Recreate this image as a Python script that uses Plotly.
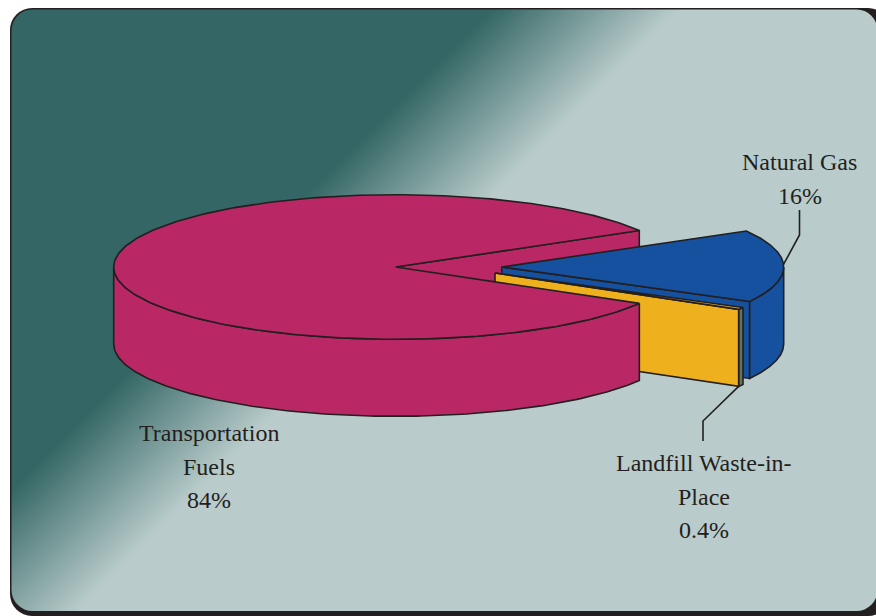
import base64
import numpy as np
import plotly.graph_objects as go

# ---- data ----
slice_names = ["Transportation Fuels", "Natural Gas", "Landfill Waste-in-Place"]
slice_shares = [83.2, 16.3, 0.5]
slice_colors = ["#b92865", "#15519f", "#efb01d"]
label_lines = [["Transportation", "Fuels", "84%"], ["Natural Gas", "16%"], ["Landfill Waste-in-", "Place", "0.4%"]]

# ---- layout constants (pixels; the axes below span the page) ----
W, H = 876, 616
RX, RY, DEPTH = 282, 72.3, 77
START = 30.25                       # degrees, where the big slice begins
CENTERS = [(395.7, 267), (501.7, 267), (495, 273)]
INK = "#231f20"
FONT = "Liberation Serif"
FONT_SIZE = 24
LINE_GAP = 33.5
LABEL_POS = [(209, 433), (799.5, 162), (703.5, 463)]
LEADER_ELBOWS = [None, [(799.5, 235), (799.5, 210)], [(703, 421), (703, 441)]]

sweep = [360 * s / sum(slice_shares) for s in slice_shares]
# red runs counter-clockwise from START; blue runs clockwise from START, yellow after it
blue_a0, blue_a1 = START, START - sweep[1]
yel_a0, yel_a1 = blue_a1, blue_a1 - sweep[2]
red_a0, red_a1 = START, START + sweep[0]


def ell(c, a0, a1, n=160, dy=0):
    t = np.radians(np.linspace(a0, a1, n))
    return c[0] + RX * np.cos(t), c[1] - RY * np.sin(t) + dy


def pt(c, a, dy=0):
    x, y = ell(c, a, a, 1, dy)
    return float(x[0]), float(y[0])


fig = go.Figure()


def poly(xs, ys, color, lw=1.6):
    fig.add_trace(go.Scatter(x=list(xs) + [xs[0]], y=list(ys) + [ys[0]], mode="lines", fill="toself",
                             fillcolor=color, line=dict(color=INK, width=lw), hoverinfo="skip", showlegend=False))


def cut_wall(c, a, color):
    px, py = pt(c, a)
    poly([c[0], px, px, c[0]], [c[1], py, py + DEPTH, c[1] + DEPTH], color)


def outer_wall(c, a0, a1, color):
    x, y = ell(c, a0, a1)
    poly(np.r_[x, x[::-1]], np.r_[y, (y + DEPTH)[::-1]], color)


def top_face(c, a0, a1, color):
    x, y = ell(c, a0, a1, 300)
    poly(np.r_[c[0], x], np.r_[c[1], y], color)


rc, bc, yc = CENTERS
# back cut wall of the large slice
cut_wall(rc, red_a0, slice_colors[0])
# natural gas slice
cut_wall(bc, blue_a1, slice_colors[1])
outer_wall(bc, blue_a1, 0, slice_colors[1])
top_face(bc, blue_a0, blue_a1, slice_colors[1])
# landfill slice
outer_wall(yc, yel_a0, yel_a1, "#66755a")
cut_wall(yc, yel_a1, slice_colors[2])
top_face(yc, yel_a0, yel_a1, slice_colors[2])
# front of the large slice
outer_wall(rc, red_a1, 180, slice_colors[0])
top_face(rc, red_a0, red_a1, slice_colors[0])

# leader lines
anchors = [None, pt(bc, 2), pt(yc, yel_a1, DEPTH)]
for a, e in zip(anchors, LEADER_ELBOWS):
    if a is None:
        continue
    pts = [a] + e
    fig.add_trace(go.Scatter(x=[p[0] for p in pts], y=[p[1] for p in pts], mode="lines",
                             line=dict(color=INK, width=1.6), hoverinfo="skip", showlegend=False))

# labels
annotations = []
for lines, (lx, ly) in zip(label_lines, LABEL_POS):
    for i, s in enumerate(lines):
        annotations.append(dict(x=lx, y=ly + i * LINE_GAP, xref="x", yref="y", text=s, showarrow=False,
                                xanchor="center", yanchor="middle",
                                font=dict(family=FONT, size=FONT_SIZE, color=INK)))

# panel background
svg = f'''<svg xmlns="http://www.w3.org/2000/svg" width="{W}" height="{H}" viewBox="0 0 {W} {H}">
<defs><linearGradient id="g" gradientUnits="userSpaceOnUse" x1="250" y1="250" x2="345" y2="345">
<stop offset="0" stop-color="#336664"/><stop offset="1" stop-color="#b9cccb"/></linearGradient></defs>
<rect x="10" y="8" width="880" height="608" rx="22" ry="22" fill="{INK}"/>
<rect x="11.5" y="9.5" width="866" height="601.5" rx="21" ry="21" fill="url(#g)"/>
</svg>'''
uri = "data:image/svg+xml;base64," + base64.b64encode(svg.encode()).decode()

fig.update_layout(
    width=W, height=H, margin=dict(l=0, r=0, t=0, b=0), autosize=False,
    paper_bgcolor="white", plot_bgcolor="rgba(0,0,0,0)",
    xaxis=dict(range=[0, W], visible=False, fixedrange=True),
    yaxis=dict(range=[H, 0], visible=False, fixedrange=True),
    annotations=annotations,
    images=[dict(source=uri, xref="paper", yref="paper", x=0, y=1, sizex=1, sizey=1,
                 xanchor="left", yanchor="top", sizing="stretch", layer="below")],
)
fig.write_html("out.html", config=dict(displayModeBar=False), post_script="document.body.style.margin='0';")
